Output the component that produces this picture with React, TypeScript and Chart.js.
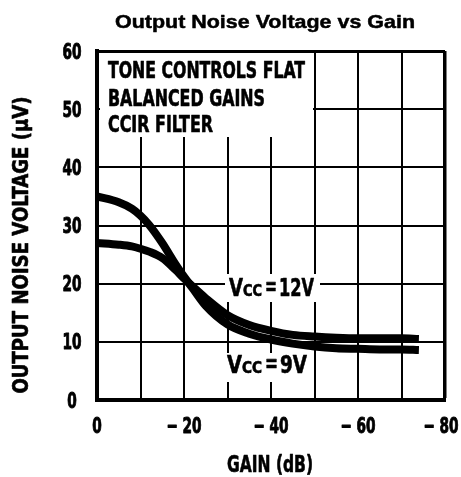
import React, { useEffect, useRef } from "react";
import { Chart, registerables } from "chart.js";

Chart.register(...registerables);

// ---- data ----
const gainDb = [0, -5, -8, -10, -12, -15, -18, -20, -22, -25, -30, -35, -40, -45, -50, -55, -60, -65, -70, -74];
const noiseVcc9 = [35, 34, 32.9, 31.7, 30.1, 27, 23.4, 21.2, 19.2, 16.2, 13.0, 11.4, 10.4, 9.7, 9.2, 8.9, 8.8, 8.7, 8.7, 8.6];
const noiseVcc12 = [27, 26.7, 26.4, 26.0, 25.5, 24.4, 22.4, 20.9, 19.5, 17.5, 14.6, 12.9, 11.9, 11.2, 10.9, 10.7, 10.6, 10.6, 10.6, 10.5];
const xGridStep = 10;
const xMin = -80;
const xMax = 0;
const xLabelEvery = 20;
const yMin = 0;
const yMax = 60;
const yStep = 10;
const titleText = "Output Noise Voltage vs Gain";
const xTitle = "GAIN (dB)";
const yTitle = "OUTPUT NOISE VOLTAGE (\u03BCV)";
const noteLines = ["TONE CONTROLS FLAT", "BALANCED GAINS", "CCIR FILTER"];

const NARROW = "'Liberation Sans Narrow', 'DejaVu Sans Condensed', 'DejaVu Sans', sans-serif";
const WIDE = "'Liberation Sans', 'DejaVu Sans', sans-serif";

function paint(ctx: CanvasRenderingContext2D, text: string, stroke: number) {
  ctx.fillStyle = "#000";
  ctx.fillText(text, 0, 0);
  if (stroke > 0) {
    ctx.strokeStyle = "#000";
    ctx.lineWidth = stroke;
    ctx.lineJoin = "round";
    ctx.strokeText(text, 0, 0);
  }
}

function fitText(
  ctx: CanvasRenderingContext2D,
  text: string,
  x: number,
  y: number,
  size: number,
  family: string,
  width: number,
  align: CanvasTextAlign,
  rotate = 0,
  stroke = 0.6
) {
  ctx.save();
  ctx.font = `bold ${size}px ${family}`;
  const w = ctx.measureText(text).width;
  const s = width / w;
  ctx.translate(x, y);
  if (rotate) ctx.rotate(rotate);
  ctx.scale(s, 1);
  ctx.textAlign = align;
  ctx.textBaseline = "alphabetic";
  paint(ctx, text, stroke);
  ctx.restore();
}

function scaledText(
  ctx: CanvasRenderingContext2D,
  text: string,
  x: number,
  y: number,
  size: number,
  family: string,
  sx: number,
  align: CanvasTextAlign,
  stroke = 0.9
) {
  ctx.save();
  ctx.font = `bold ${size}px ${family}`;
  ctx.translate(x, y);
  ctx.scale(sx, 1);
  ctx.textAlign = align;
  ctx.textBaseline = "alphabetic";
  paint(ctx, text, stroke);
  ctx.restore();
}

function drawVcc(ctx: CanvasRenderingContext2D, x: number, base: number, rest: string, widths: number[]) {
  fitText(ctx, "V", x, base, 24, NARROW, widths[0], "left");
  fitText(ctx, "CC", x + widths[0], base, 15, NARROW, widths[1], "left");
  fitText(ctx, "=", x + widths[0] + widths[1] + 3, base - 1, 24, NARROW, widths[2], "left");
  fitText(ctx, rest, x + widths[0] + widths[1] + widths[2] + 5, base, 24, NARROW, widths[3], "left");
}

const TICK_SIZE = 21;

const annotations = {
  id: "annotations",
  beforeDatasetsDraw(chart: any) {
    const { ctx, chartArea: a, scales } = chart;
    const x = scales.x;
    ctx.save();
    ctx.fillStyle = "#fff";
    const bx = a.left + 3;
    const by = a.top + 2;
    ctx.fillRect(bx, by, x.getPixelForValue(-50) - 1.5 - bx, 137 - by);
    ctx.fillRect(225, 274, 95, 28);
    ctx.fillRect(225, 353, x.getPixelForValue(-50) - 1.5 - 225, 29);
    ctx.restore();
  },
  afterDraw(chart: any) {
    const { ctx, scales } = chart;
    ctx.save();
    ctx.font = `bold ${TICK_SIZE}px ${NARROW}`;
    const sx = 9.5 / ctx.measureText("0").width;
    ctx.restore();
    const xs = scales.x;
    xs.ticks.forEach((t: any) => {
      const lbl = xs.options.ticks.callback(t.value);
      if (!lbl) return;
      let px = xs.getPixelForValue(t.value);
      if (t.value === xMin) px -= 4;
      scaledText(ctx, lbl, px, 433, TICK_SIZE, NARROW, sx, "center");
    });
    const ys = scales.y;
    ys.ticks.forEach((t: any) => {
      const py = ys.getPixelForValue(t.value);
      scaledText(ctx, String(t.value), 72, py + 7.5, TICK_SIZE, NARROW, sx, "center");
    });
    fitText(ctx, titleText, 265, 28, 19, WIDE, 300, "center", 0, 0.5);
    fitText(ctx, noteLines[0], 108, 78, 23, NARROW, 197, "left");
    fitText(ctx, noteLines[1], 108, 106, 23, NARROW, 157, "left");
    fitText(ctx, noteLines[2], 108, 131.5, 23, NARROW, 105, "left");
    fitText(ctx, xTitle, 270, 472, 23, NARROW, 86, "center");
    fitText(ctx, yTitle, 28, 245, 21, NARROW, 297, "center", -Math.PI / 2);
    drawVcc(ctx, 229, 296, "12V", [14, 19, 12, 35]);
    drawVcc(ctx, 227, 373, "9V", [15, 20, 13, 27]);
  },
};

export default function App() {
  const ref = useRef<HTMLCanvasElement>(null);
  useEffect(() => {
    if (!ref.current) return;
    const toPts = (ys: number[]) => gainDb.map((g, i) => ({ x: g, y: ys[i] }));
    const lineStyle = {
      borderColor: "#000",
      borderWidth: 8,
      pointRadius: 0,
      cubicInterpolationMode: "monotone",
      borderCapStyle: "butt",
      fill: false,
    };
    const chart = new Chart(ref.current, {
      type: "line",
      data: {
        datasets: [
          { label: "VCC = 9V", data: toPts(noiseVcc9), ...lineStyle },
          { label: "VCC = 12V", data: toPts(noiseVcc12), ...lineStyle },
        ],
      },
      options: {
        responsive: false,
        animation: false,
        events: [],
        layout: { padding: { top: 51, right: 16, left: 0, bottom: 0 } },
        plugins: { legend: { display: false }, tooltip: { enabled: false }, title: { display: false } },
        scales: {
          x: {
            type: "linear",
            min: xMin,
            max: xMax,
            reverse: true,
            afterFit(scale: any) {
              scale.height = 77;
              scale.paddingLeft = 0;
              scale.paddingRight = 0;
            },
            grid: {
              color: "#000",
              lineWidth: (c: any) => (c.tick && c.tick.value === xMin ? 3.5 : 2),
              drawTicks: false,
            },
            border: { display: true, color: "#000", width: 4 },
            ticks: {
              stepSize: xGridStep,
              padding: 12,
              maxRotation: 0,
              autoSkip: false,
              color: "rgba(0,0,0,0)",
              font: { family: NARROW, size: TICK_SIZE, weight: "bold" },
              callback: (v: any) => {
                const n = Number(v);
                if (n === 0) return "0";
                return n % xLabelEvery === 0 ? "\u2212 " + Math.abs(n) : "";
              },
            },
          },
          y: {
            type: "linear",
            min: yMin,
            max: yMax,
            afterFit(scale: any) {
              scale.width = 97;
              scale.paddingTop = 0;
              scale.paddingBottom = 0;
            },
            grid: {
              color: "#000",
              lineWidth: (c: any) => (c.tick && c.tick.value === yMax ? 3 : 2),
              drawTicks: false,
            },
            border: { display: true, color: "#000", width: 4 },
            ticks: {
              stepSize: yStep,
              padding: 15,
              crossAlign: "center",
              color: "rgba(0,0,0,0)",
              font: { family: NARROW, size: TICK_SIZE, weight: "bold" },
            },
          },
        },
      } as any,
      plugins: [annotations],
    });
    return () => chart.destroy();
  }, []);
  return (
    <div style={{ position: "absolute", left: 0, top: 0, width: 461, height: 477, background: "#fff" }}>
      <canvas ref={ref} width={461} height={477} />
    </div>
  );
}
